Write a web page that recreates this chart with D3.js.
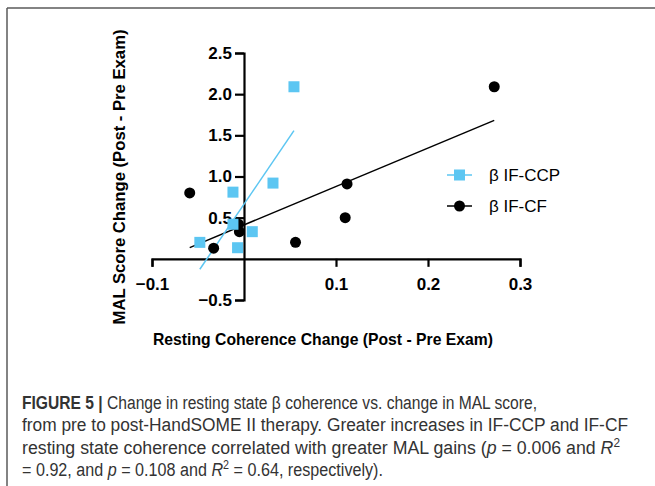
<!DOCTYPE html>
<html>
<head>
<meta charset="utf-8">
<script src="https://cdn.jsdelivr.net/npm/d3@7"></script>
<style>
  body { margin: 0; background: #fff; }
  svg { display: block; }
</style>
</head>
<body>
<div id="chart"></div>
<script>
let width = 655;
let height = 486;

// data
let ccpX = [-0.048, -0.012, -0.012, -0.007, 0.009, 0.0315, 0.0543];
let ccpY = [0.20, 0.81, 0.42, 0.135, 0.33, 0.92, 2.09];
let cfX = [-0.059, -0.033, -0.006, -0.005, 0.056, 0.110, 0.112, 0.272];
let cfY = [0.80, 0.13, 0.42, 0.33, 0.20, 0.50, 0.91, 2.09];

let seriesNames = ["β IF-CCP", "β IF-CF"];
let xTicks = [-0.1, 0.1, 0.2, 0.3];
let yTicks = [-0.5, 0.5, 1.0, 1.5, 2.0, 2.5];

// caption pieces: [text, style] ; b = bold, i = italic
let captionLines = [
  [["FIGURE 5 | ", "b"], ["Change in resting state β coherence vs. change in MAL score,", ""]],
  [["from pre to post-HandSOME II therapy. Greater increases in IF-CCP and IF-CF", ""]],
  [["resting state coherence correlated with greater MAL gains (", ""], ["p", "i"], [" = 0.006 and ", ""], ["R", "i"], ["2", "sup"]],
  [["= 0.92, and ", ""], ["p", "i"], [" = 0.108 and ", ""], ["R", "i"], ["2", "sup"], [" = 0.64, respectively).", ""]]
];
let capWidths = [515, 606, 598, 361];

let blue = "#5cc6f2";

let svg = d3.select("#chart").append("svg")
  .attr("width", width)
  .attr("height", height);

// frame lines
svg.append("line").attr("x1", 7).attr("y1", 8).attr("x2", width).attr("y2", 8)
  .attr("stroke", "#5a5a5a").attr("stroke-width", 1.5);
svg.append("line").attr("x1", 7).attr("y1", 8).attr("x2", 7).attr("y2", height)
  .attr("stroke", "#5a5a5a").attr("stroke-width", 1.5);

let x = d3.scaleLinear().domain([-0.1, 0.3]).range([152, 520]);
let y = d3.scaleLinear().domain([-0.5, 2.5]).range([300, 53]);

let tickFont = "Liberation Sans, Arial, sans-serif";

// x axis at y = 0
let xAxis = svg.append("g").attr("transform", "translate(0," + y(0) + ")")
  .call(d3.axisBottom(x).tickValues(xTicks).tickFormat(d3.format(".1f")).tickSizeOuter(0).tickSize(8).tickPadding(11));
xAxis.select(".domain").attr("stroke", "#000").attr("stroke-width", 2.2);
xAxis.selectAll(".tick line").attr("stroke", "#000").attr("stroke-width", 2.2);
xAxis.selectAll("text").attr("font-family", tickFont).attr("font-weight", "bold")
  .attr("font-size", 17).attr("fill", "#000");

// y axis at x = 0
let yAxis = svg.append("g").attr("transform", "translate(" + x(0) + ",0)")
  .call(d3.axisLeft(y).tickValues(yTicks).tickFormat(d3.format(".1f")).tickSizeOuter(0).tickSize(9).tickPadding(3));
yAxis.select(".domain").attr("stroke", "#000").attr("stroke-width", 2.2);
yAxis.selectAll(".tick line").attr("stroke", "#000").attr("stroke-width", 2.2);
yAxis.selectAll("text").attr("font-family", tickFont).attr("font-weight", "bold")
  .attr("font-size", 17).attr("fill", "#000");

// least squares fit
function fit(xs, ys) {
  let mx = d3.mean(xs), my = d3.mean(ys);
  let sxy = d3.sum(xs, (v, i) => (v - mx) * (ys[i] - my));
  let sxx = d3.sum(xs, v => (v - mx) * (v - mx));
  let slope = sxy / sxx;
  let icpt = my - slope * mx;
  let ext = d3.extent(xs);
  return ext.map(v => [v, icpt + slope * v]);
}

let lineGen = d3.line().x(d => x(d[0])).y(d => y(d[1]));

svg.append("path").datum(fit(cfX, cfY)).attr("d", lineGen)
  .attr("stroke", "#000").attr("stroke-width", 1.5).attr("fill", "none");
svg.append("path").datum(fit(ccpX, ccpY)).attr("d", lineGen)
  .attr("stroke", blue).attr("stroke-width", 1.5).attr("fill", "none");

// points
let cfData = cfX.map((v, i) => [v, cfY[i]]);
let ccpData = ccpX.map((v, i) => [v, ccpY[i]]);

svg.selectAll(".cf").data(cfData).enter().append("circle")
  .attr("class", "cf")
  .attr("cx", d => x(d[0])).attr("cy", d => y(d[1]))
  .attr("r", 5.5).attr("fill", "#000");

svg.selectAll(".ccp").data(ccpData).enter().append("rect")
  .attr("class", "ccp")
  .attr("x", d => x(d[0]) - 5.5).attr("y", d => y(d[1]) - 5.5)
  .attr("width", 11).attr("height", 11).attr("fill", blue);

// legend
let legend = svg.selectAll(".legend").data(seriesNames).enter().append("g")
  .attr("class", "legend")
  .attr("transform", (d, i) => "translate(447," + (175 + i * 31) + ")");
legend.append("line").attr("x1", 0).attr("x2", 25).attr("y1", 0).attr("y2", 0)
  .attr("stroke", (d, i) => i == 0 ? blue : "#000").attr("stroke-width", 1.5);
legend.filter((d, i) => i == 0).append("rect")
  .attr("x", 7).attr("y", -5.5).attr("width", 11).attr("height", 11).attr("fill", blue);
legend.filter((d, i) => i == 1).append("circle")
  .attr("cx", 12.5).attr("cy", 0).attr("r", 5.5).attr("fill", "#000");
legend.append("text").attr("x", 42).attr("y", 6).text(d => d)
  .attr("font-family", tickFont).attr("font-size", 17).attr("fill", "#000");

// axis titles
svg.append("text")
  .attr("transform", "translate(125,177) rotate(-90)")
  .attr("text-anchor", "middle")
  .attr("font-family", tickFont).attr("font-weight", "bold").attr("font-size", 16.5)
  .attr("textLength", 295).attr("lengthAdjust", "spacingAndGlyphs")
  .text("MAL Score Change (Post - Pre Exam)");

svg.append("text")
  .attr("x", 323).attr("y", 345)
  .attr("text-anchor", "middle")
  .attr("font-family", tickFont).attr("font-weight", "bold").attr("font-size", 16.5)
  .attr("textLength", 340).attr("lengthAdjust", "spacingAndGlyphs")
  .text("Resting Coherence Change (Post - Pre Exam)");

// caption
let cap = svg.selectAll(".cap").data(captionLines).enter().append("text")
  .attr("class", "cap")
  .attr("x", 22).attr("y", (d, i) => 409 + i * 22.3)
  .attr("font-family", tickFont).attr("font-size", 18).attr("fill", "#333")
  .attr("textLength", (d, i) => capWidths[i]).attr("lengthAdjust", "spacingAndGlyphs");
cap.selectAll("tspan").data(d => d).enter().append("tspan")
  .attr("font-weight", d => d[1] == "b" ? "bold" : null)
  .attr("font-style", d => d[1] == "i" ? "italic" : null)
  .attr("font-size", d => d[1] == "sup" ? 12 : null)
  .attr("dy", d => d[1] == "sup" ? -7 : null)
  .text(d => d[0]);
// bring baseline back after superscript
cap.selectAll("tspan").filter((d, i, nodes) => i > 0 && d3.select(nodes[i - 1]).datum()[1] == "sup")
  .attr("dy", 7);
</script>
</body>
</html>
